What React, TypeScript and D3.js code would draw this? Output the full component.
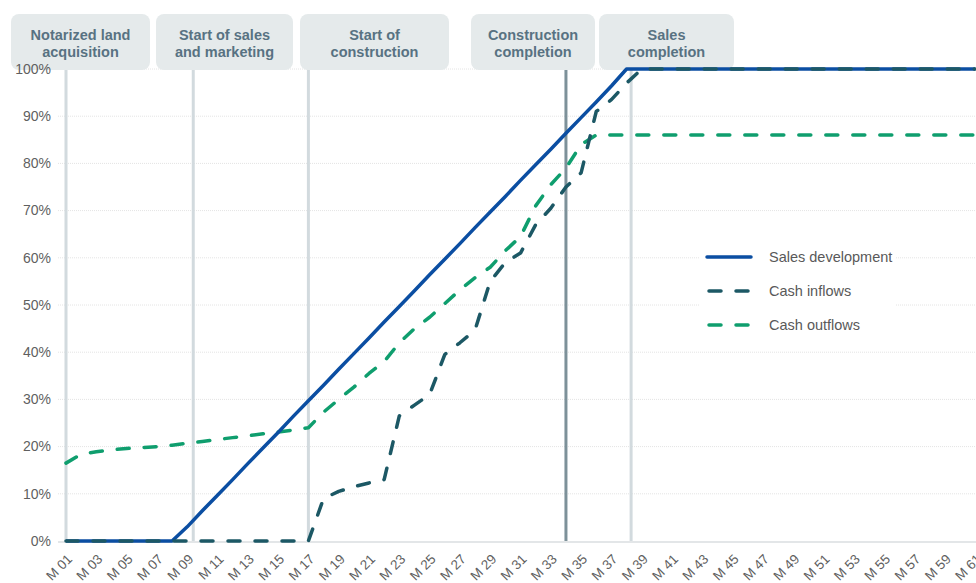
import { useEffect, useRef } from 'react';
import * as d3 from 'd3';

const MONTHS = d3.range(1, 62).map((m) => `M ${String(m).padStart(2, '0')}`);

const SALES_DEVELOPMENT = [
  0, 0, 0, 0, 0, 0, 0, 0,
  3, 6.4, 9.7, 13, 16.4, 19.7, 23, 26.4, 29.7, 33,
  36.4, 39.7, 43, 46.4, 49.7, 53, 56.4, 59.7, 63, 66.4,
  69.7, 73, 76.4, 79.7, 83, 86.4, 89.7, 93, 96.4, 100,
  100, 100, 100, 100, 100, 100, 100, 100, 100, 100,
  100, 100, 100, 100, 100, 100, 100, 100, 100, 100,
  100, 100, 100,
];

const CASH_INFLOWS = [
  0, 0, 0, 0, 0, 0, 0, 0, 0, 0,
  0, 0, 0, 0, 0, 0, 0, 9, 10.5, 11.5,
  12.3, 13, 26.5, 28.8, 31, 39.5, 42, 44.7, 55, 59,
  61, 67, 70.5, 75, 78, 91, 93.5, 97, 100, 100,
  100, 100, 100, 100, 100, 100, 100, 100, 100, 100,
  100, 100, 100, 100, 100, 100, 100, 100, 100, 100,
  100,
];

const CASH_OUTFLOWS = [
  16.5, 18.4, 18.9, 19.3, 19.6, 19.8, 20.0, 20.3, 20.7, 21.1,
  21.5, 21.9, 22.3, 22.7, 23.1, 23.5, 24.0, 27.3, 30.0, 32.6,
  35.5, 38.0, 42.0, 45.0, 47.4, 50.3, 53.2, 55.8, 58.0, 61.5,
  64.5, 71.0, 75.5, 79.0, 84.0, 86.0, 86, 86, 86, 86,
  86, 86, 86, 86, 86, 86, 86, 86, 86, 86,
  86, 86, 86, 86, 86, 86, 86, 86, 86, 86,
  86,
];

const Y_TICKS = [0, 10, 20, 30, 40, 50, 60, 70, 80, 90, 100];

// milestone month (fractional, where the marker line sits) + label lines
const MILESTONE_MONTHS = [1, 9.4, 17, 34, 38.3];
const MILESTONE_LABELS = [
  ['Notarized land', 'acquisition'],
  ['Start of sales', 'and marketing'],
  ['Start of', 'construction'],
  ['Construction', 'completion'],
  ['Sales', 'completion'],
];
const MILESTONE_DARK = [false, false, false, true, false];

// header boxes are laid out as a row, not centred on the lines
const BOX_X = [11, 156, 300, 471, 599];
const BOX_W = [139, 137, 149, 124, 135];

const WIDTH = 976;
const HEIGHT = 583;
const FONT = '"Liberation Sans", Arial, sans-serif';

export default function App() {
  const svgRef = useRef<SVGSVGElement>(null);

  useEffect(() => {
    if (!svgRef.current) return;
    const svg = d3.select(svgRef.current);
    svg.selectAll('*').remove();

    const x = d3.scalePoint<string>().domain(MONTHS).range([66, 975]);
    const step = x.step();
    const xm = (m: number) => 66 + (m - 1) * step;
    const y = d3.scaleLinear().domain([0, 100]).range([541, 69]);

    // gridlines
    svg.append('g')
      .selectAll('line')
      .data(Y_TICKS.filter((t) => t > 0))
      .join('line')
      .attr('x1', 58)
      .attr('x2', WIDTH)
      .attr('y1', (d) => y(d))
      .attr('y2', (d) => y(d))
      .attr('stroke', '#e4e4e4')
      .attr('stroke-width', 1)
      .attr('stroke-dasharray', '1 1');

    svg.append('line')
      .attr('x1', 58).attr('x2', WIDTH)
      .attr('y1', y(0) + 1).attr('y2', y(0) + 1)
      .attr('stroke', '#e3e6e8')
      .attr('stroke-width', 2);

    // milestone lines
    svg.append('g')
      .selectAll('line')
      .data(MILESTONE_MONTHS)
      .join('line')
      .attr('x1', (d) => xm(d))
      .attr('x2', (d) => xm(d))
      .attr('y1', 68)
      .attr('y2', y(0))
      .attr('stroke', (_, i) => (MILESTONE_DARK[i] ? '#7d9199' : '#d2dade'))
      .attr('stroke-width', 3);

    // milestone header boxes
    const boxes = svg.append('g')
      .selectAll('g')
      .data(MILESTONE_LABELS)
      .join('g');
    boxes.append('rect')
      .attr('x', (_, i) => BOX_X[i])
      .attr('y', 14)
      .attr('width', (_, i) => BOX_W[i])
      .attr('height', 56)
      .attr('rx', 8)
      .attr('fill', '#e5eaeb');
    boxes.each(function (lines, i) {
      d3.select(this)
        .selectAll('text')
        .data(lines)
        .join('text')
        .attr('x', BOX_X[i] + BOX_W[i] / 2)
        .attr('y', (_, j) => 40 + j * 17)
        .attr('text-anchor', 'middle')
        .attr('font-family', FONT)
        .attr('font-size', '14.5px')
        .attr('font-weight', 'bold')
        .attr('fill', '#587282')
        .text((d) => d);
    });

    // y labels (drawn over the header boxes, as in the original)
    svg.append('g')
      .selectAll('text')
      .data(Y_TICKS)
      .join('text')
      .attr('x', 51)
      .attr('y', (d) => y(d) + 1)
      .attr('text-anchor', 'end')
      .attr('dominant-baseline', 'middle')
      .attr('font-family', FONT)
      .attr('font-size', '14px')
      .attr('fill', '#5f5f5f')
      .text((d) => `${d}%`);

    // x labels (every other month)
    svg.append('g')
      .selectAll('text')
      .data(MONTHS.filter((_, i) => i % 2 === 0))
      .join('text')
      .attr('transform', (d) => `translate(${(x(d) ?? 0) + 7}, 560) rotate(-45)`)
      .attr('text-anchor', 'end')
      .attr('font-family', FONT)
      .attr('font-size', '13.5px')
      .attr('fill', '#5f5f5f')
      .text((d) => d);

    // legend backdrop
    svg.append('rect')
      .attr('x', 700).attr('y', 240)
      .attr('width', 195).attr('height', 100)
      .attr('fill', '#fff');

    const line = d3.line<number>()
      .x((_, i) => x(MONTHS[i]) ?? 0)
      .y((d) => y(d));

    const series = [
      { name: 'Cash outflows', values: CASH_OUTFLOWS, color: '#0f9e6e', dash: '12 15' },
      { name: 'Sales development', values: SALES_DEVELOPMENT, color: '#0b4ea2', dash: null },
      { name: 'Cash inflows', values: CASH_INFLOWS, color: '#1c5865', dash: '12 15' },
    ];

    series.forEach((s) => {
      svg.append('path')
        .attr('d', line(s.values) || '')
        .attr('fill', 'none')
        .attr('stroke', s.color)
        .attr('stroke-width', 3.5)
        .attr('stroke-linecap', s.dash ? 'round' : 'butt')
        .attr('stroke-linejoin', 'round')
        .attr('stroke-dasharray', s.dash);
    });

    // legend
    const legendOrder = ['Sales development', 'Cash inflows', 'Cash outflows'];
    const legend = svg.append('g')
      .selectAll('g')
      .data(legendOrder.map((n) => series.find((s) => s.name === n)!))
      .join('g')
      .attr('transform', (_, i) => `translate(707, ${257 + i * 34})`);
    legend.append('line')
      .attr('x1', (d) => (d.dash ? 2 : 0))
      .attr('x2', 44)
      .attr('stroke', (d) => d.color)
      .attr('stroke-width', 3.5)
      .attr('stroke-linecap', 'round')
      .attr('stroke-dasharray', (d) => d.dash);
    legend.append('text')
      .attr('x', 62)
      .attr('y', 1)
      .attr('dominant-baseline', 'middle')
      .attr('font-family', FONT)
      .attr('font-size', '14.5px')
      .attr('fill', '#595959')
      .text((d) => d.name);
  }, []);

  return (
    <svg
      ref={svgRef}
      width={WIDTH}
      height={HEIGHT}
      viewBox={`0 0 ${WIDTH} ${HEIGHT}`}
      style={{ position: 'absolute', left: 0, top: 0, background: '#fff' }}
    />
  );
}
